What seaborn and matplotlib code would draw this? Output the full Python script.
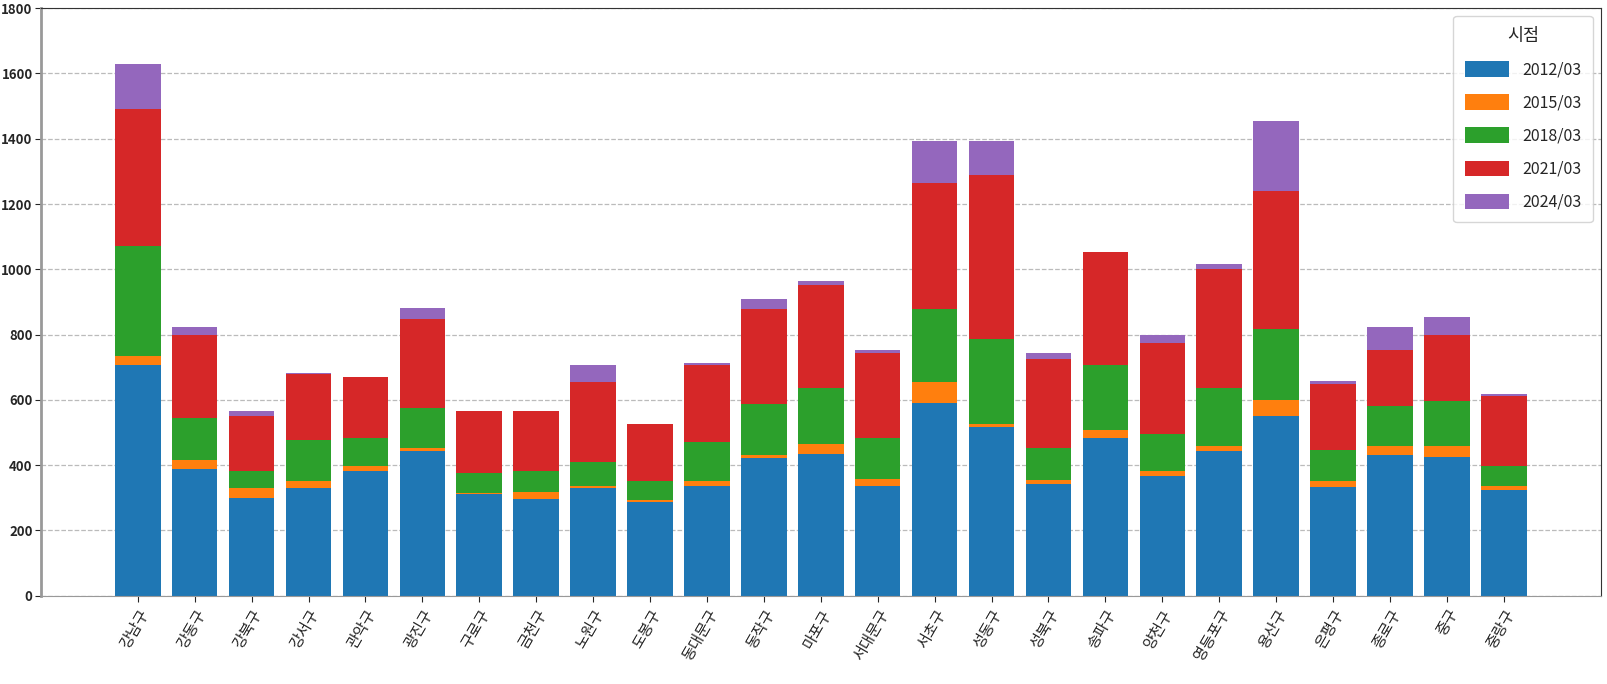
import matplotlib
matplotlib.use('Agg')
import matplotlib.pyplot as plt
import seaborn as sns
import numpy as np
import pandas as pd

sns.set_style('white')
plt.rcParams['font.family'] = ['Noto Sans CJK KR', 'DejaVu Sans']
plt.rcParams['axes.unicode_minus'] = False

# 서울 자치구
districts = ['강남구', '강동구', '강북구', '강서구', '관악구', '광진구', '구로구', '금천구',
             '노원구', '도봉구', '동대문구', '동작구', '마포구', '서대문구', '서초구', '성동구',
             '성북구', '송파구', '양천구', '영등포구', '용산구', '은평구', '종로구', '중구', '중랑구']
periods = ['2012/03', '2015/03', '2018/03', '2021/03', '2024/03']

# 시점별 값 (누적 막대의 각 구간)
v2012 = [707, 389, 299, 329, 382, 443, 311, 297, 330, 288, 336, 423, 435,
         336, 592, 517, 341, 483, 366, 443, 550, 333, 430, 424, 324]
v2015 = [29, 27, 31, 24, 15, 10, 5, 20, 6, 5, 17, 8, 31,
         23, 62, 9, 13, 25, 17, 16, 51, 20, 29, 35, 12]
v2018 = [336, 128, 53, 125, 86, 121, 61, 65, 75, 60, 118, 155, 170,
         124, 225, 260, 99, 199, 112, 177, 216, 93, 121, 139, 61]
v2021 = [418, 254, 167, 200, 187, 274, 189, 184, 243, 172, 236, 293, 315,
         262, 387, 504, 273, 347, 278, 366, 424, 203, 174, 202, 216]
v2024 = [139, 25, 16, 5, 0, 35, 0, 0, 53, 0, 6, 30, 12,
         8, 126, 102, 17, 0, 25, 15, 213, 10, 69, 54, 4]

series = [v2012, v2015, v2018, v2021, v2024]
colors = sns.color_palette('tab10', 5)

fig = plt.figure(figsize=(16.07, 6.84), dpi=100)
ax = fig.add_axes([0.0255, 0.129, 0.9705, 0.859])

bottom = np.zeros(len(districts))
for per, vals, col in zip(periods, series, colors):
    df = pd.DataFrame({'구': districts, '값': vals})
    sns.barplot(data=df, x='구', y='값', order=districts, color=col, saturation=1,
                bottom=bottom.copy(), width=0.8, label=per, ax=ax, errorbar=None,
                edgecolor='none')
    bottom += np.array(vals)

ax.set_ylim(0, 1800)
ax.set_yticks(range(0, 1801, 200))
ax.set_xlim(-1.7, 25.7)
ax.set_xlabel('')
ax.set_ylabel('')
ax.yaxis.grid(True, linestyle='--', color='#bbbbbb', linewidth=0.9)
ax.set_axisbelow(True)
ax.tick_params(axis='y', labelsize=9.5, length=4, pad=2, left=True)
ax.tick_params(axis='x', labelsize=11, length=4, bottom=True)
plt.setp(ax.get_xticklabels(), rotation=60, ha='right', rotation_mode='anchor')
plt.setp(ax.get_yticklabels(), fontweight='bold')

for side in ['left', 'bottom']:
    ax.spines[side].set_color('#999999')
ax.spines['left'].set_linewidth(2)
for side in ['top', 'right']:
    ax.spines[side].set_color('#333333')

ax.legend(title='시점', loc='upper right', fontsize=11.5, title_fontsize=12.5,
          handlelength=2.8, handleheight=1.1, borderpad=0.7, labelspacing=1.0,
          handletextpad=0.8)

fig.savefig('out.png', dpi=100)
